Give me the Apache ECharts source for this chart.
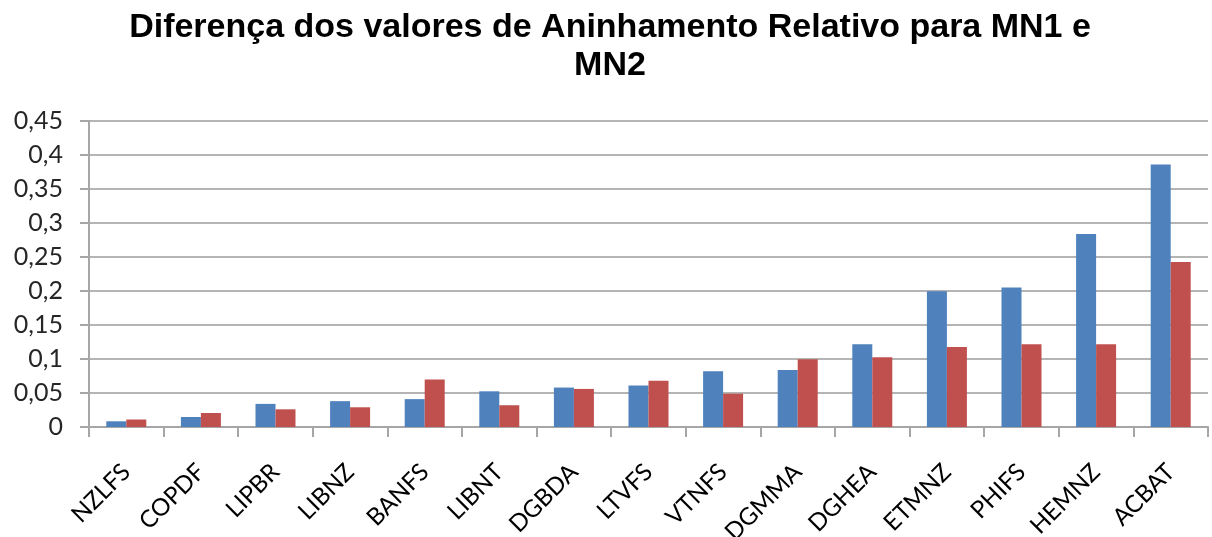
<!DOCTYPE html>
<html>
<head>
<meta charset="utf-8">
<script src="https://cdn.jsdelivr.net/npm/echarts@6/dist/echarts.min.js"></script>
<style>html,body{margin:0;padding:0;background:#fff}#c{width:1212px;height:537px}</style>
</head>
<body>
<div id="c"></div>
<script>
const titleText = 'Diferença dos valores de Aninhamento Relativo para MN1 e\nMN2';
const categories = ['NZLFS','COPDF','LIPBR','LIBNZ','BANFS','LIBNT','DGBDA','LTVFS','VTNFS','DGMMA','DGHEA','ETMNZ','PHIFS','HEMNZ','ACBAT'];
const mn1 = [0.0084, 0.0147, 0.034, 0.038, 0.041, 0.0525, 0.058, 0.061, 0.082, 0.084, 0.1216, 0.1996, 0.205, 0.284, 0.386];
const mn2 = [0.011, 0.0206, 0.026, 0.029, 0.070, 0.032, 0.056, 0.068, 0.049, 0.0996, 0.1025, 0.1177, 0.1216, 0.1216, 0.2427];
const yMin = 0, yMax = 0.45, yStep = 0.05;

const chart = echarts.init(document.getElementById('c'));
chart.setOption({
  animation: false,
  backgroundColor: '#fff',
  title: {
    text: titleText,
    left: 605, top: 4, textAlign: 'center',
    textStyle: { fontFamily: 'Liberation Sans', fontWeight: 'bold', fontSize: 34, lineHeight: 38, color: '#000' }
  },
  grid: { left: 89, right: 4, top: 121, bottom: 110, containLabel: false, outerBoundsMode: 'none' },
  xAxis: {
    type: 'category',
    data: categories,
    axisLine: { show: true, lineStyle: { color: '#a6a6a6', width: 2 } },
    axisTick: { show: true, length: 10, lineStyle: { color: '#a6a6a6', width: 2 } },
    axisLabel: { rotate: 45, margin: 41, fontFamily: 'Lato', fontSize: 24, color: '#000' }
  },
  yAxis: {
    type: 'value',
    min: yMin, max: yMax, interval: yStep,
    axisLine: { show: true, lineStyle: { color: '#a6a6a6', width: 2 } },
    axisTick: { show: true, length: 9, lineStyle: { color: '#a6a6a6', width: 2 } },
    splitLine: { show: true, lineStyle: { color: '#b4b4b4', width: 2 } },
    axisLabel: {
      margin: 26, fontFamily: 'Lato', fontSize: 25, color: '#262626',
      formatter: v => String(+v.toFixed(2)).replace('.', ',')
    }
  },
  series: [
    { name: 'MN1', type: 'bar', data: mn1, barWidth: 20, barGap: '0%', itemStyle: { color: '#4f81bd' } },
    { name: 'MN2', type: 'bar', data: mn2, barWidth: 20, barGap: '0%', itemStyle: { color: '#c0504d' } }
  ]
});
</script>
</body>
</html>
